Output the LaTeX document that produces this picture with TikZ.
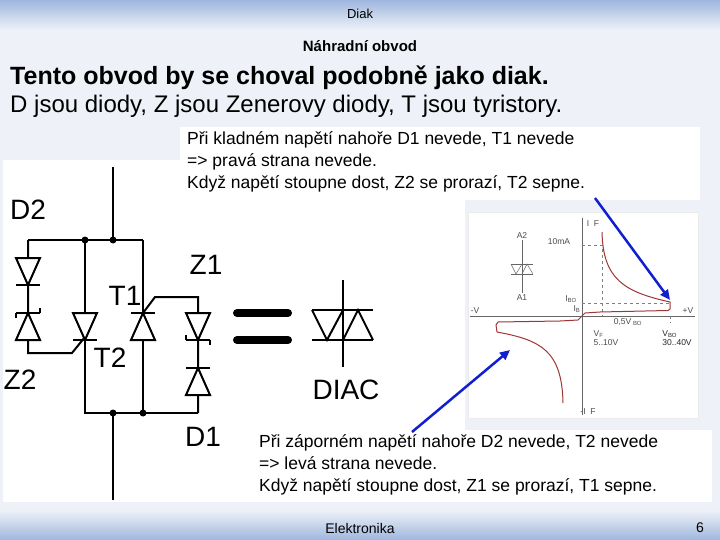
\documentclass[tikz,border=0pt]{standalone}
\usepackage{fontspec}
\setmainfont{Liberation Sans}
\usetikzlibrary{arrows.meta}
\definecolor{bg}{HTML}{EEF2F8}
\definecolor{band}{HTML}{9FB6DE}
\definecolor{curve}{HTML}{A03535}
\definecolor{arr}{HTML}{1020D0}
\tikzset{
  wire/.style={line width=2pt,black},
  dot/.style={circle,fill=black,inner sep=0pt,minimum size=7pt},
  lbl/.style={font=\fontsize{28}{28}\selectfont,inner sep=0pt},
  txt/.style={font=\fontsize{17.5}{22}\selectfont,align=left,anchor=north west,inner sep=0pt},
  glbl/.style={font=\fontsize{8.5}{9}\selectfont,text=black!70,inner sep=0pt},
  bluearrow/.style={arr,line width=2.5pt,-{Triangle[length=10pt,width=9pt]}},
  dsh/.style={dashed,black!50,line width=0.4pt}
}
\newcommand{\dn}[2]{% diode pointing down, top at (#1,#2)
  \draw[wire,fill=white] (#1-12,#2) -- (#1+12,#2) -- (#1,#2+27) -- cycle;
  \draw[wire] (#1-12,#2+27) -- (#1+12,#2+27);}
\newcommand{\up}[2]{% diode pointing up, bottom at (#1,#2)
  \draw[wire,fill=white] (#1-12,#2) -- (#1+12,#2) -- (#1,#2-27) -- cycle;
  \draw[wire] (#1-12,#2-27) -- (#1+12,#2-27);}
\begin{document}
\begin{tikzpicture}[x=1pt,y=-1pt]
\useasboundingbox (0,0) rectangle (720,540);
\fill[bg] (0,0) rectangle (720,540);
\shade[top color=band,bottom color=bg] (0,0) rectangle (720,30);
\shade[top color=bg,bottom color=band] (0,510) rectangle (720,540);
\node[font=\fontsize{13}{13}\selectfont] (hdr) at (360,14) {Diak};
\node[font=\bfseries\fontsize{15}{15}\selectfont] (ttl) at (360,46) {Náhradní obvod};
\node[anchor=west,inner sep=0pt,font=\bfseries\fontsize{25}{25}\selectfont] (l1) at (10,78) {Tento obvod by se choval podobně jako diak.};
\node[anchor=west,inner sep=0pt,font=\fontsize{24}{24}\selectfont] (l2) at (10,106) {D jsou diody, Z jsou Zenerovy diody, T jsou tyristory.};
% panels
\fill[white] (3,160) rectangle (465,502);
\fill[white] (180,127) rectangle (700,200);
\fill[white] (255,430) rectangle (712,502);
\fill[white,draw=black!8] (468,212) rectangle (698,418);
\node[txt] (t1) at (187,131) {Při kladném napětí nahoře D1 nevede, T1 nevede\\=> pravá strana nevede.\\Když napětí stoupne dost, Z2 se prorazí, T2 sepne.};
\node[txt] (t2) at (259,434) {Při záporném napětí nahoře D2 nevede, T2 nevede\\=> levá strana nevede.\\Když napětí stoupne dost, Z1 se prorazí, T1 sepne.};
\node[font=\fontsize{14}{14}\selectfont] (ft) at (360,528) {Elektronika};
\node[font=\fontsize{14}{14}\selectfont] (pg) at (700,528) {6};
% circuit
\draw[wire] (113,167) -- (113,240);
\draw[wire] (28,240) -- (143,240);
\draw[wire] (28,240) -- (28,353) -- (72,353) -- (85,337);
\draw[wire] (85,240) -- (85,413) -- (198,413);
\draw[wire] (143,240) -- (143,413);
\draw[wire] (143,313) -- (155,297) -- (198,297) -- (198,413);
\draw[wire] (113,413) -- (113,500);
\dn{28}{258}
\up{28}{340}\draw[wire] (16,313)--(16,318) (40,313)--(40,308);
\dn{85}{313}
\up{143}{340}
\dn{198}{313}\draw[wire] (186,340)--(186,335) (210,340)--(210,345);
\up{198}{395}
\node[dot] (j1) at (85,240) {};
\node[dot] (j2) at (113,240) {};
\node[dot] (j3) at (113,413) {};
\node[dot] (j4) at (143,413) {};
\node[lbl] (D2) at (28,210) {D2};
\node[lbl] (Z1) at (206,265) {Z1};
\node[lbl] (T1) at (125,296) {T1};
\node[lbl] (T2) at (110,358) {T2};
\node[lbl] (Z2) at (20,380) {Z2};
\node[lbl] (D1) at (203,437) {D1};
\node[lbl] (DIAC) at (346,390) {DIAC};
\draw[line width=8pt,line cap=round] (237,313) -- (288,313) (237,340) -- (288,340);
\draw[wire] (343,280) -- (343,367);
\draw[wire] (312,310) -- (373,310) (312,340) -- (373,340);
\draw[wire] (312,310) -- (327,340) -- (343,310) (343,340) -- (358,310) -- (373,340);
% graph
\draw[black!60,line width=0.6pt] (582,218) -- (582,415);
\draw[black!60,line width=0.6pt] (470,316) -- (695,316);
\draw[dsh] (582,245) -- (602,245) -- (602,316);
\draw[dsh] (582,303) -- (670,303);
\draw[dsh] (670,316) -- (670,323);
\draw[curve,line width=1pt] (582,316) -- (585,313) -- (600,312) -- (668,310.5) -- (670,309) -- (670,302)
  .. controls (625,292) and (603,280) .. (602,232);
\draw[curve,line width=1pt] (582,316) -- (578,320) -- (560,321) -- (498,322) -- (496,325) -- (497,332)
  .. controls (540,340) and (562,350) .. (563,403);
\node[glbl] (gif) at (593,224) {I\ \ F};
\node[glbl] (gma) at (559,242) {10mA};
\node[glbl] (gibo) at (571,299) {I\textsubscript{BO}};
\node[glbl] (gib) at (577,309) {I\textsubscript{B}};
\node[glbl] (gmv) at (475,311) {-V};
\node[glbl] (gpv) at (688,311) {+V};
\node[glbl] (g05) at (628,322) {0,5V\textsubscript{ BO}};
\node[glbl,align=left] (gvf) at (606,338) {V\textsubscript{F}\\5..10V};
\node[glbl,align=left,text=black!85] (gvbo) at (677,338) {V\textsubscript{BO}\\30..40V};
\node[glbl] (gnif) at (588,412) {-I\ \ F};
\node[glbl] (ga2) at (522,236) {A2};
\node[glbl] (ga1) at (522,298) {A1};
\draw[black!60,line width=0.5pt] (522,240) -- (522,293);
\draw[black!60,line width=0.5pt] (511,264) -- (533,264) (511,274) -- (533,274);
\draw[black!60,line width=0.5pt] (511,264) -- (516,274) -- (522,264) (522,274) -- (527,264) -- (533,274);
% blue arrows
\coordinate (a1s) at (595,198); \coordinate (a1e) at (670,300);
\coordinate (a2s) at (412,432); \coordinate (a2e) at (510,350);
\draw[bluearrow] (a1s) -- (a1e);
\draw[bluearrow] (a2s) -- (a2e);
\end{tikzpicture}
\end{document}
